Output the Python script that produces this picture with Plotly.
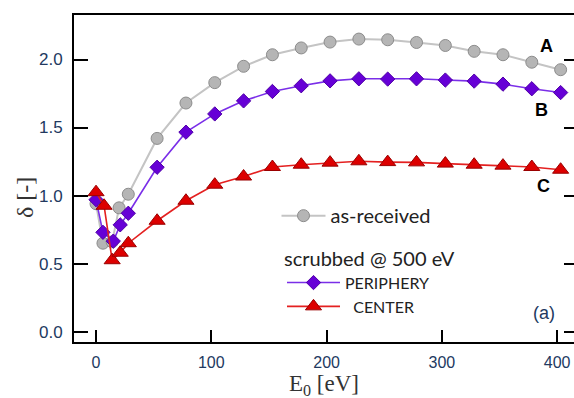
import plotly.graph_objects as go

# ---- data ----
E_received = [0, 6, 14, 20, 28, 53, 78, 103, 128, 153, 178, 203, 228, 253, 278, 303, 328, 353, 378, 403]
d_received = [0.94, 0.65, 0.66, 0.91, 1.01, 1.42, 1.68, 1.83, 1.95, 2.035, 2.085, 2.128, 2.15, 2.145,
              2.125, 2.103, 2.06, 2.035, 1.98, 1.925]

E_periphery = [0, 6, 15, 21, 28, 53, 78, 103, 128, 153, 178, 203, 228, 253, 278, 303, 328, 353, 378, 403]
d_periphery = [0.97, 0.73, 0.665, 0.785, 0.87, 1.208, 1.466, 1.60, 1.696, 1.765, 1.807, 1.843, 1.858,
               1.856, 1.858, 1.849, 1.841, 1.819, 1.785, 1.757]

E_center = [0, 7, 14, 21, 28, 53, 78, 103, 128, 153, 178, 203, 228, 253, 278, 303, 328, 353, 378, 403]
d_center = [1.025, 0.925, 0.525, 0.58, 0.65, 0.815, 0.962, 1.08, 1.14, 1.21, 1.227, 1.242, 1.252,
            1.246, 1.244, 1.235, 1.227, 1.22, 1.21, 1.19]

x_ticks = [0, 100, 200, 300, 400]
y_ticks = [0.0, 0.5, 1.0, 1.5, 2.0]
y_ticktext = ["0.0", "0.5", "1.0", "1.5", "2.0"]

curve_labels = ["A", "B", "C"]

TICK_COLOR = "#22395f"
SANS = "Liberation Sans, Arial, sans-serif"
LEG = "Lato, Calibri, sans-serif"
SERIF = "Liberation Serif, Times New Roman, serif"

fig = go.Figure()

fig.add_trace(go.Scatter(
    x=E_received, y=d_received, mode="lines+markers", name="as-received",
    line=dict(color="#c4c4c4", width=2),
    marker=dict(symbol="circle", size=12, color="#b5b5b5", line=dict(color="#8c8c8c", width=1)),
    legend="legend",
))
fig.add_trace(go.Scatter(
    x=E_periphery, y=d_periphery, mode="lines+markers", name="PERIPHERY",
    line=dict(color="#7a2ee8", width=1.6),
    marker=dict(symbol="diamond", size=11, color="#6600d6", line=dict(color="#5000a8", width=1)),
    legend="legend2",
))
fig.add_trace(go.Scatter(
    x=E_center, y=d_center, mode="lines+markers", name="\u00a0\u00a0CENTER",
    line=dict(color="#e42020", width=1.6),
    marker=dict(symbol="triangle-up", size=14, color="#dd0000", line=dict(color="#9a0000", width=1)),
    legend="legend2",
))

# trace that carries the right-hand tick axis (no visible marks)
fig.add_trace(go.Scatter(x=[0], y=[0], yaxis="y2", mode="markers", marker=dict(opacity=0),
                         showlegend=False, hoverinfo="skip"))

XR = [-19.1, 414.6]
YR = [-0.076, 2.327]

fig.update_layout(
    width=574, height=398,
    margin=dict(l=74, r=0, t=15, b=56),
    paper_bgcolor="white", plot_bgcolor="white",
    showlegend=True,
    xaxis=dict(
        range=XR, tickvals=x_ticks, ticks="inside", ticklen=12, tickwidth=2, tickcolor="black",
        showline=True, linecolor="black", linewidth=2, mirror=True,
        showgrid=False, zeroline=False,
        tickfont=dict(family=SANS, size=16, color=TICK_COLOR),
        ticklabelstandoff=5,
    ),
    yaxis=dict(
        range=YR, tickvals=y_ticks, ticktext=y_ticktext, ticks="inside", ticklen=14, tickwidth=2,
        tickcolor="black", showline=True, linecolor="black", linewidth=2,
        showgrid=False, zeroline=False,
        tickfont=dict(family=SANS, size=17, color=TICK_COLOR),
        ticklabelstandoff=6,
    ),
    yaxis2=dict(
        range=YR, tickvals=y_ticks, overlaying="y", side="right", ticks="inside", ticklen=10,
        tickwidth=2, tickcolor="black", showticklabels=False, showline=False,
        showgrid=False, zeroline=False,
    ),
    legend=dict(
        x=0.405, y=0.446, xanchor="left", yanchor="top",
        bgcolor="rgba(0,0,0,0)", font=dict(family=LEG, size=20, color="#222222"),
        itemwidth=44, tracegroupgap=0,
    ),
    legend2=dict(
        x=0.416, y=0.313, xanchor="left", yanchor="top",
        bgcolor="rgba(0,0,0,0)", font=dict(family=LEG, size=16, color="#222222"),
        title=dict(text="scrubbed @ 500 eV", font=dict(family=LEG, size=20, color="#222222"), side="top"),
        itemwidth=53, tracegroupgap=0,
    ),
)

annotations = [
    dict(text="E<sub>0</sub> [eV]", xref="paper", yref="paper", x=0.5, y=-0.131,
         xanchor="center", yanchor="middle", showarrow=False,
         font=dict(family=SERIF, size=23, color="#333333")),
    dict(text="\u03b4 [-]", xref="paper", x=-0.098, yref="paper", y=0.44, textangle=-90,
         xanchor="center", yanchor="middle", showarrow=False,
         font=dict(family=SERIF, size=24, color="#333333")),
    dict(text="(a)", xref="paper", yref="paper", x=0.94, y=0.09, xanchor="center", yanchor="middle",
         showarrow=False, font=dict(family=SANS, size=18, color=TICK_COLOR)),
]
label_pos = [(0.944, 0.904), (0.934, 0.711), (0.938, 0.477)]
for lab, (px, py) in zip(curve_labels, label_pos):
    annotations.append(dict(text="<b>%s</b>" % lab, xref="paper", yref="paper", x=px, y=py,
                            xanchor="center", yanchor="middle", showarrow=False,
                            font=dict(family=SANS, size=18, color="black")))
fig.update_layout(annotations=annotations)

fig.write_html("out.html")
